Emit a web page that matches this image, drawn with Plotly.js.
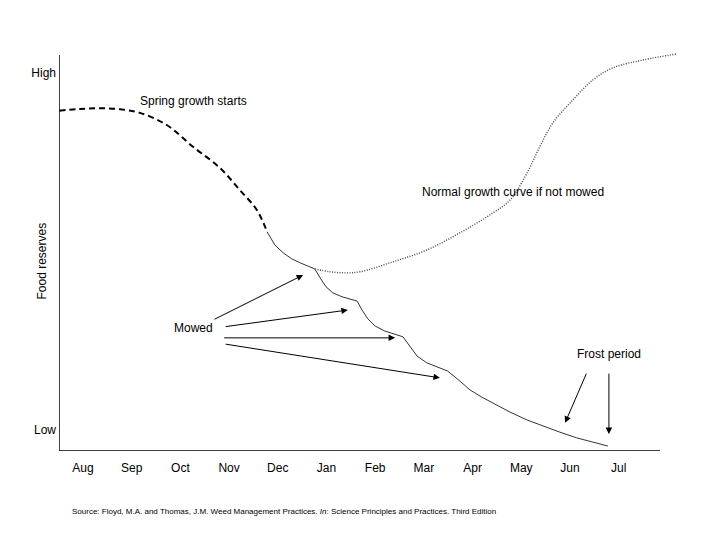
<!DOCTYPE html>
<html>
<head>
<meta charset="utf-8">
<script src="https://cdn.plot.ly/plotly-3.0.1.min.js"></script>
<style>html,body{margin:0;padding:0;background:#fff;}#chart{width:720px;height:540px;}</style>
</head>
<body>
<div id="chart"></div>
<script>
// x: month index (Aug = 0 ... Jul = 11); y: food reserve level (Low = 0, High = 10)
const months = ['Aug','Sep','Oct','Nov','Dec','Jan','Feb','Mar','Apr','May','Jun','Jul'];
const monthIdx = [0,1,2,3,4,5,6,7,8,9,10,11];

const springX = [-0.49,-0.06,0.35,0.76,1.17,1.72,2.26,2.81,3.22,3.57,3.78];
const springY = [8.94,8.99,9.01,8.98,8.88,8.54,7.93,7.34,6.72,6.16,5.55];

const mowedX = [3.78,3.94,4.11,4.29,4.46,4.76,4.87,4.99,5.13,5.32,5.63,5.73,5.85,6.00,6.20,6.57,6.71,6.86,7.06,7.27,7.49,7.74,7.95,8.19,8.42,8.77,9.12,9.49,9.79,10.14,10.47,10.78];
const mowedY = [5.55,5.18,4.96,4.79,4.68,4.51,4.26,4.01,3.84,3.73,3.61,3.36,3.11,2.91,2.77,2.61,2.35,2.07,1.88,1.76,1.65,1.37,1.12,0.92,0.76,0.50,0.28,0.08,-0.06,-0.22,-0.34,-0.45];

const normalX = [4.76,5.07,5.38,5.69,6.37,7.06,7.74,8.42,8.77,9.12,9.38,9.65,10.06,10.47,10.88,11.50,12.20];
const normalY = [4.51,4.43,4.40,4.43,4.71,5.04,5.52,6.08,6.44,7.20,7.93,8.60,9.24,9.80,10.14,10.36,10.53];

// arrows: [tailX, tailY, headX, headY]
const mowedArrows = [[2.67,3.08,4.52,4.34],[2.90,2.89,5.44,3.36],[2.87,2.58,6.41,2.58],[2.90,2.41,7.33,1.46]];
const frostArrows = [[10.35,1.62,9.90,0.20],[10.80,1.62,10.80,-0.11]];

const labels = [
  {text:'Spring growth starts', x:2.26, y:9.22},
  {text:'Normal growth curve if not mowed', x:8.83, y:6.67},
  {text:'Mowed', x:2.26, y:2.86},
  {text:'Frost period', x:10.80, y:2.13}
];

const xRange = [-0.493, 12.26];
const yRange = [-0.588, 10.64];
const FONT = 'Liberation Sans, Arial, sans-serif';

const traces = [
  {x:springX, y:springY, mode:'lines', line:{color:'#000', width:2, dash:'6px,4px', shape:'spline'}, hoverinfo:'skip'},
  {x:mowedX, y:mowedY, mode:'lines', line:{color:'#333', width:1}, hoverinfo:'skip'},
  {x:normalX, y:normalY, mode:'lines', line:{color:'#444', width:1.4, dash:'1px,1.5px', shape:'spline'}, hoverinfo:'skip'}
];

const annotations = [];
labels.forEach(l => annotations.push({x:l.x, y:l.y, xref:'x', yref:'y', text:l.text, showarrow:false, font:{family:FONT, size:12, color:'#000'}}));
mowedArrows.concat(frostArrows).forEach(a => annotations.push({
  x:a[2], y:a[3], ax:a[0], ay:a[1], xref:'x', yref:'y', axref:'x', ayref:'y',
  text:'', showarrow:true, arrowhead:2, arrowsize:1.3, arrowwidth:1, arrowcolor:'#000', standoff:0, startstandoff:0
}));
annotations.push({
  xref:'paper', yref:'paper', x:-0.0274, y:0.475, xanchor:'center', yanchor:'middle', textangle:-90, showarrow:false,
  text:'Food reserves', font:{family:FONT, size:12, color:'#000'}
});
annotations.push({
  xref:'paper', yref:'paper', x:0.0177, y:-0.15, xanchor:'left', yanchor:'middle', showarrow:false,
  text:'Source: Floyd, M.A. and Thomas, J.M. Weed Management Practices. <i>In</i>: Science Principles and Practices. Third Edition',
  font:{family:FONT, size:8, color:'#000'}
});

const layout = {
  width:720, height:540,
  margin:{l:59, r:40, t:50, b:89},
  paper_bgcolor:'#fff', plot_bgcolor:'#fff',
  showlegend:false,
  font:{family:FONT, size:12, color:'#000'},
  xaxis:{range:xRange, tickvals:monthIdx, ticktext:months, ticks:'', showgrid:false, zeroline:false, showline:false, ticklabelstandoff:8, tickfont:{family:FONT, size:12, color:'#000'}, fixedrange:true},
  yaxis:{range:yRange, tickvals:[0,10], ticktext:['Low','High'], ticks:'', showgrid:false, zeroline:false, showline:false, ticklabelstandoff:2,
    tickfont:{family:FONT, size:12, color:'#000'}, fixedrange:true},
  shapes:[
    {type:'line', xref:'x', yref:'y', x0:xRange[0], x1:11.85, y0:yRange[0], y1:yRange[0], line:{color:'#000', width:1.5}},
    {type:'line', xref:'x', yref:'y', x0:xRange[0], x1:xRange[0], y0:yRange[0], y1:10.50, line:{color:'#000', width:1.5}}
  ],
  annotations:annotations
};

Plotly.newPlot('chart', traces, layout, {displayModeBar:false, staticPlot:true});
</script>
</body>
</html>
